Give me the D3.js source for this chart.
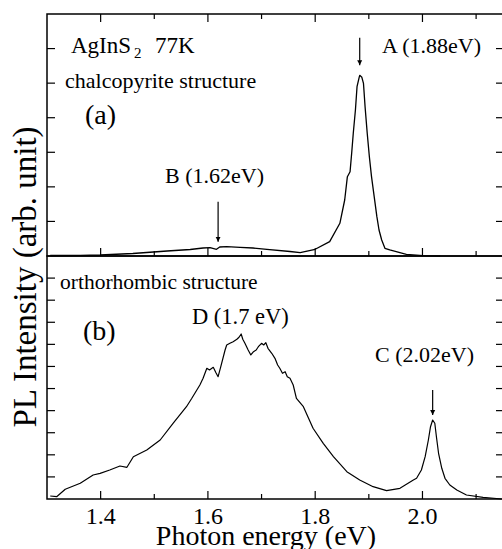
<!DOCTYPE html>
<html>
<head>
<meta charset="utf-8">
<script src="https://cdn.jsdelivr.net/npm/d3@7"></script>
<style>
  body { margin: 0; background: #fff; }
  text { font-family: "Liberation Serif", "Times New Roman", serif; fill: #000; }
</style>
</head>
<body>
<div class="chart"></div>
<script>
// spectrum (a): chalcopyrite, photon energy (eV) vs PL intensity (arb.)
var energyA = [1.306, 1.362, 1.399, 1.460, 1.524, 1.567, 1.591, 1.604, 1.616, 1.622, 1.635, 1.660, 1.684, 1.710,
  1.753, 1.772, 1.800, 1.827, 1.846, 1.855, 1.860, 1.865, 1.868, 1.871, 1.875, 1.878, 1.882, 1.883, 1.887, 1.890,
  1.893, 1.897, 1.901, 1.905, 1.910, 1.915, 1.919, 1.924, 1.930, 1.939, 1.970, 2.001, 2.033];
var intensityA = [0.014, 0.020, 0.029, 0.072, 0.145, 0.188, 0.231, 0.240, 0.194, 0.260, 0.269, 0.252, 0.231, 0.194,
  0.130, 0.095, 0.194, 0.414, 0.946, 1.620, 2.294, 2.438, 2.971, 3.549, 4.223, 4.897, 5.169, 5.227, 5.169, 4.995,
  4.319, 3.549, 2.872, 2.294, 1.715, 1.137, 0.752, 0.463, 0.223, 0.174, 0.049, 0.010, 0.000];

// spectrum (b): orthorhombic
var energyB = [1.306, 1.318, 1.334, 1.362, 1.386, 1.399, 1.417, 1.436, 1.449, 1.461, 1.486, 1.511, 1.535, 1.560,
  1.570, 1.585, 1.591, 1.598, 1.603, 1.610, 1.615, 1.619, 1.624, 1.632, 1.635, 1.641, 1.647, 1.654, 1.658, 1.662,
  1.665, 1.669, 1.675, 1.680, 1.685, 1.690, 1.694, 1.700, 1.704, 1.708, 1.712, 1.719, 1.725, 1.730, 1.734, 1.739,
  1.744, 1.748, 1.753, 1.759, 1.765, 1.778, 1.796, 1.815, 1.834, 1.859, 1.883, 1.908, 1.933, 1.958, 1.983, 1.989,
  1.998, 2.005, 2.011, 2.015, 2.019, 2.023, 2.026, 2.030, 2.036, 2.042, 2.051, 2.064, 2.082, 2.113, 2.148];
var intensityB = [0.136, 0.104, 0.439, 0.711, 1.086, 1.163, 1.313, 1.494, 1.435, 1.915, 2.218, 2.671, 3.427, 4.178,
  4.559, 5.161, 5.464, 5.917, 5.840, 5.962, 5.718, 5.536, 5.989, 6.745, 6.972, 7.048, 7.121, 7.230, 7.320, 7.469,
  7.230, 7.048, 6.745, 6.519, 6.668, 6.745, 6.894, 7.048, 6.972, 7.076, 6.822, 6.596, 6.369, 6.066, 5.917, 5.690,
  5.763, 5.536, 5.464, 5.161, 4.559, 4.178, 3.201, 2.521, 1.915, 1.236, 0.860, 0.557, 0.376, 0.484, 0.860, 0.937,
  1.313, 1.915, 2.671, 3.273, 3.576, 3.427, 2.820, 2.069, 1.390, 0.937, 0.634, 0.407, 0.181, 0.077, 0.000];

var xTickValues = [1.4, 1.5, 1.6, 1.7, 1.8, 1.9, 2.0, 2.1];
var xTickLabels = ["1.4", "", "1.6", "", "1.8", "", "2.0", ""];
var yTicksA = [1, 2, 3, 4, 5, 6];
var yTicksB = [1, 2, 3, 4, 5, 6, 7, 8, 9, 10];

// peak markers: [energy, arrow top, arrow tip] in intensity units of each panel
var peakLabelsA = ["A (1.88eV)", "B (1.62eV)"];
var arrowsA = [[1.883, 6.31, 5.52], [1.619, 1.57, 0.41]];
var peakLabelsB = ["D (1.7 eV)", "C (2.02eV)"];
var arrowsB = [[2.019, 4.93, 3.80]];

var svgWidth = 502;
var svgHeight = 549;
// panel edges (don't call it "top", that's window.top)
var pLeft = 47, pRight = 504, pTop = 14, pMid = 256, pBottom = 499;

var svg = d3.select(".chart").append("svg")
  .attr("width", svgWidth)
  .attr("height", svgHeight);

var x = d3.scaleLinear().domain([1.3, 2.152]).range([pLeft, pRight]);
var yA = d3.scaleLinear().domain([0, 7]).range([pMid, pTop]);
var yB = d3.scaleLinear().domain([0, 11]).range([pBottom, pMid]);

var defs = svg.append("defs");
defs.append("marker")
  .attr("id", "head")
  .attr("viewBox", "0 0 10 10")
  .attr("refX", 10).attr("refY", 5)
  .attr("markerWidth", 5).attr("markerHeight", 7)
  .attr("markerUnits", "userSpaceOnUse")
  .attr("orient", "auto")
  .append("path").attr("d", "M0,0 L10,5 L0,10 Z").attr("fill", "#000");

// frames for both panels
svg.append("rect").attr("x", pLeft).attr("y", pTop).attr("width", pRight - pLeft).attr("height", pMid - pTop)
  .attr("fill", "none").attr("stroke", "#000").attr("stroke-width", 1.5);
svg.append("rect").attr("x", pLeft).attr("y", pMid).attr("width", pRight - pLeft).attr("height", pBottom - pMid)
  .attr("fill", "none").attr("stroke", "#000").attr("stroke-width", 1.5);

// inward x ticks (major 8px, minor 5px)
function xTicks(y0, dir) {
  svg.append("g").selectAll("line")
    .data(xTickValues)
    .enter().append("line")
    .attr("x1", function(d) { return x(d); })
    .attr("x2", function(d) { return x(d); })
    .attr("y1", y0)
    .attr("y2", function(d, i) { return y0 + dir * (i % 2 === 0 ? 8 : 5); })
    .attr("stroke", "#000").attr("stroke-width", 1.2);
}
xTicks(pTop, 1);
xTicks(pMid, -1);
xTicks(pBottom, -1);

// inward y ticks on both sides
function yTicks(ticks, scale) {
  var g = svg.append("g");
  [[pLeft, 8], [pRight, -8]].forEach(function(s) {
    g.selectAll(null)
      .data(ticks)
      .enter().append("line")
      .attr("x1", s[0]).attr("x2", s[0] + s[1])
      .attr("y1", function(d) { return scale(d); })
      .attr("y2", function(d) { return scale(d); })
      .attr("stroke", "#000").attr("stroke-width", 1.2);
  });
}
yTicks(yTicksA, yA);
yTicks(yTicksB, yB);

// tick labels
svg.append("g").selectAll("text")
  .data(xTickValues.filter(function(d, i) { return xTickLabels[i] !== ""; }))
  .enter().append("text")
  .attr("x", function(d) { return x(d); })
  .attr("y", 524)
  .attr("text-anchor", "middle")
  .style("font-size", "24px")
  .text(function(d) { return xTickLabels[xTickValues.indexOf(d)]; });

// spectra
var lineA = d3.line()
  .x(function(d, i) { return x(energyA[i]); })
  .y(function(d) { return yA(d); });
var lineB = d3.line()
  .x(function(d, i) { return x(energyB[i]); })
  .y(function(d) { return yB(d); });

svg.append("path").datum(intensityA).attr("d", lineA)
  .attr("fill", "none").attr("stroke", "#000").attr("stroke-width", 1.3).attr("stroke-linejoin", "round");
svg.append("path").datum(intensityB).attr("d", lineB)
  .attr("fill", "none").attr("stroke", "#000").attr("stroke-width", 1.2).attr("stroke-linejoin", "round");

// arrows
function drawArrows(arr, scale) {
  svg.append("g").selectAll("line")
    .data(arr)
    .enter().append("line")
    .attr("x1", function(d) { return x(d[0]); })
    .attr("x2", function(d) { return x(d[0]); })
    .attr("y1", function(d) { return scale(d[1]); })
    .attr("y2", function(d) { return scale(d[2]); })
    .attr("stroke", "#000").attr("stroke-width", 1.2)
    .attr("marker-end", "url(#head)");
}
drawArrows(arrowsA, yA);
drawArrows(arrowsB, yB);

// panel texts
var title = svg.append("text").attr("x", 71).attr("y", 53).style("font-size", "23px");
title.append("tspan").text("AgInS");
title.append("tspan").attr("dx", 3).attr("dy", 5).style("font-size", "15px").text("2");
title.append("tspan").attr("x", 155).attr("dy", -5).text("77K");

svg.append("text").attr("x", 65).attr("y", 88).style("font-size", "22px").text("chalcopyrite structure");
svg.append("text").attr("x", 85).attr("y", 124).style("font-size", "28px").text("(a)");
svg.append("text").attr("x", 382).attr("y", 53).style("font-size", "22px").text(peakLabelsA[0]);
svg.append("text").attr("x", 165).attr("y", 183).style("font-size", "22px").text(peakLabelsA[1]);

svg.append("text").attr("x", 60).attr("y", 289).style("font-size", "21.5px").text("orthorhombic structure");
svg.append("text").attr("x", 83).attr("y", 340).style("font-size", "28px").text("(b)");
svg.append("text").attr("x", 192).attr("y", 324).style("font-size", "22.5px").text(peakLabelsB[0]);
svg.append("text").attr("x", 375).attr("y", 361.5).style("font-size", "22px").text(peakLabelsB[1]);

// axis titles
svg.append("text")
  .attr("x", 266).attr("y", 545)
  .attr("text-anchor", "middle")
  .style("font-size", "28px")
  .text("Photon energy (eV)");

svg.append("text")
  .attr("transform", "translate(36," + 277 + ") rotate(-90)")
  .attr("text-anchor", "middle")
  .style("font-size", "33px")
  .text("PL Intensity (arb. unit)");
</script>
</body>
</html>
